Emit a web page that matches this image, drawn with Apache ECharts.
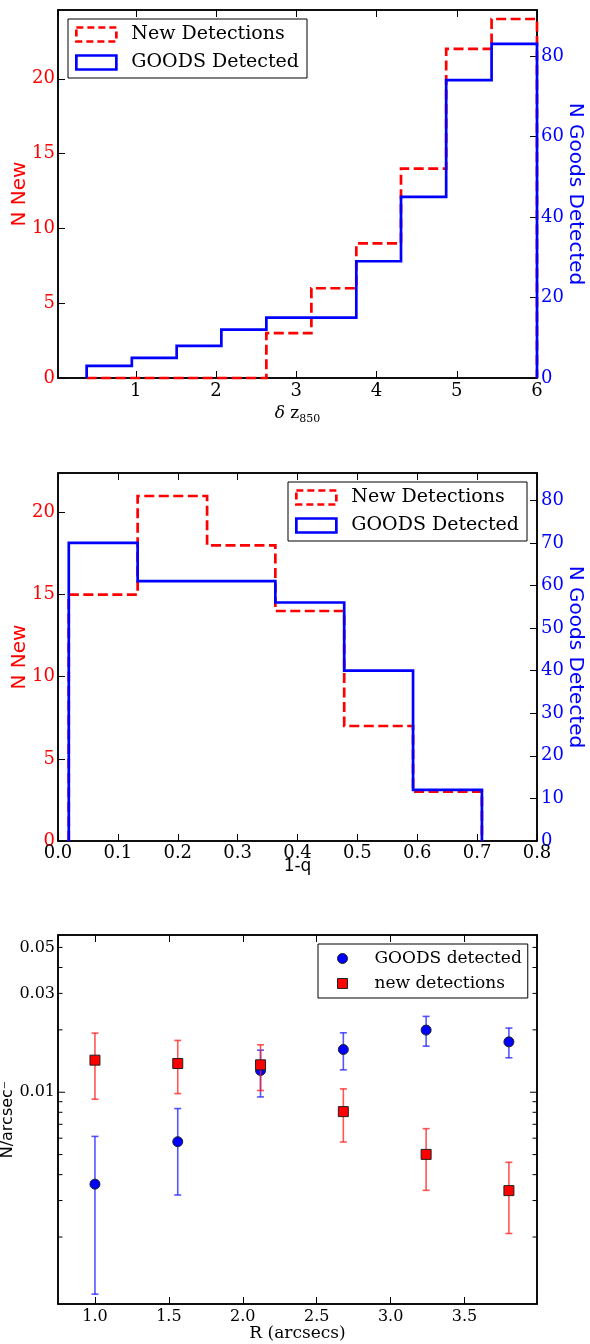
<!DOCTYPE html>
<html>
<head>
<meta charset="utf-8">
<script src="https://cdn.jsdelivr.net/npm/echarts@6/dist/echarts.min.js"></script>
<style>
html,body{margin:0;padding:0;background:#fff;}
#c{width:590px;height:1344px;}
</style>
</head>
<body>
<div id="c"></div>
<script>
// ---------- Panel 1: delta z850 histogram ----------
const dzEdges = [0.387, 0.950, 1.509, 2.066, 2.627, 3.188, 3.748, 4.305, 4.868, 5.434, 6.0];
const dzNew   = [0, 0, 0, 0, 3, 6, 9, 14, 22, 24];
const dzGoods = [3, 5, 8, 12, 15, 15, 29, 45, 74, 83];

// ---------- Panel 2: 1-q histogram ----------
const qEdges = [0.018, 0.133, 0.249, 0.363, 0.478, 0.593, 0.708];
const qNew   = [15, 21, 18, 14, 7, 3];
const qGoods = [70, 61, 61, 56, 40, 12];

// ---------- Panel 3: surface density vs R ----------
const rValues      = [1.0, 1.56, 2.12, 2.68, 3.24, 3.80];
const goodsDensity = [0.00360, 0.00577, 0.01273, 0.01608, 0.01995, 0.01750];
const goodsHigh    = [0.00612, 0.00834, 0.01596, 0.01936, 0.02323, 0.02040];
const goodsLow     = [0.00106, 0.00319, 0.00949, 0.01282, 0.01669, 0.01466];
const newDensity   = [0.01428, 0.01376, 0.01356, 0.00806, 0.00501, 0.00335];
const newHigh      = [0.01929, 0.01778, 0.01694, 0.01038, 0.00667, 0.00459];
const newLow       = [0.00925, 0.00985, 0.01019, 0.00575, 0.00336, 0.00208];

// tick values for the log axis of panel 3
const logLabeledTicks = [0.01, 0.03, 0.05];
const logMinorTicks   = [0.002, 0.003, 0.004, 0.005, 0.006, 0.007, 0.008, 0.009, 0.02, 0.04];

const SERIF = "'DejaVu Serif', 'Liberation Serif', serif";
const SANS  = "'DejaVu Sans', 'Liberation Sans', sans-serif";
const RED = '#ff0000', BLUE = '#0000ff';

function stepOutline(edges, counts) {
  const pts = [[edges[0], 0]];
  counts.forEach((c, i) => { pts.push([edges[i], c]); pts.push([edges[i + 1], c]); });
  pts.push([edges[edges.length - 1], 0]);
  return pts;
}

const axisLine = { show: true, onZero: false, lineStyle: { color: '#000', width: 1.5 } };
const axisTick = { show: true, inside: true, length: 7, lineStyle: { color: '#000', width: 1 } };
const noSplit = { show: false };

function xMirror(grid, min, max, extra) {
  return Object.assign({ gridIndex: grid, type: 'value', position: 'top', min, max,
    axisLine, axisTick, axisLabel: { show: false }, splitLine: noSplit }, extra || {});
}

const chart = echarts.init(document.getElementById('c'), null, { renderer: 'canvas' });

const xMin3 = 0.75, xMax3 = 3.99;
const yMin3 = 0.00095, yMax3 = 0.0574;

const histLegendText = { fontFamily: SERIF, fontSize: 19, color: '#000', padding: [0, 0, 0, 10] };
function histLegend(left, top) {
  return {
    left, top, orient: 'vertical', itemWidth: 40, itemHeight: 14, itemGap: 9,
    padding: [6, 8, 6, 7], borderColor: '#000', borderWidth: 1, backgroundColor: '#fff',
    selectedMode: false, textStyle: histLegendText,
    data: [
      { name: 'New Detections', icon: 'rect',
        itemStyle: { color: 'rgba(0,0,0,0)', borderColor: RED, borderWidth: 2.7, borderType: [7, 4] } },
      { name: 'GOODS Detected', icon: 'rect',
        itemStyle: { color: 'rgba(0,0,0,0)', borderColor: BLUE, borderWidth: 2.7, borderType: 'solid' } }
    ]
  };
}

function errRender(color) {
  return function (params, api) {
    const x = api.value(0), lo = api.value(1), hi = api.value(2);
    const pLo = api.coord([x, lo]);
    const pHi = api.coord([x, hi]);
    const cap = 3.5;
    const st = { stroke: color, lineWidth: 1.6 };
    return {
      type: 'group', children: [
        { type: 'line', shape: { x1: pLo[0], y1: pLo[1], x2: pHi[0], y2: pHi[1] }, style: st },
        { type: 'line', shape: { x1: pLo[0] - cap, y1: pLo[1], x2: pLo[0] + cap, y2: pLo[1] }, style: st },
        { type: 'line', shape: { x1: pHi[0] - cap, y1: pHi[1], x2: pHi[0] + cap, y2: pHi[1] }, style: st }
      ]
    };
  };
}

const gridBase = { left: 58, right: 53, show: true, borderColor: '#000', borderWidth: 1.5,
  backgroundColor: 'transparent', containLabel: false, outerBoundsMode: 'none' };

const option = {
  animation: false,
  backgroundColor: '#fff',
  grid: [
    Object.assign({ top: 10, height: 368 }, gridBase),
    Object.assign({ top: 473, height: 368 }, gridBase),
    Object.assign({ top: 935, height: 369 }, gridBase)
  ],
  xAxis: [
    { gridIndex: 0, type: 'value', position: 'bottom', min: 0.03, max: 6,
      axisLine, axisTick, splitLine: noSplit,
      axisLabel: { color: '#000', fontFamily: SERIF, fontSize: 18, margin: 4, showMinLabel: false },
      name: '{d|\u03b4} z{s|850}', nameLocation: 'middle', nameGap: 25, nameMoveOverlap: false,
      nameTextStyle: { color: '#000', fontFamily: SERIF, fontSize: 17, lineHeight: 22,
        rich: { d: { fontFamily: SERIF, fontStyle: 'italic', fontSize: 17, lineHeight: 22 },
                s: { fontFamily: SERIF, fontSize: 11, lineHeight: 11, verticalAlign: 'bottom' } } } },
    xMirror(0, 0.03, 6),
    { gridIndex: 1, type: 'value', position: 'bottom', min: 0, max: 0.8, interval: 0.1,
      axisLine, axisTick, splitLine: noSplit,
      axisLabel: { color: '#000', fontFamily: SERIF, fontSize: 18, margin: 3, formatter: v => v.toFixed(1) },
      name: '1-q', nameLocation: 'middle', nameGap: 17, nameMoveOverlap: false,
      nameTextStyle: { color: '#000', fontFamily: SANS, fontSize: 17 } },
    xMirror(1, 0, 0.8, { interval: 0.1 }),
    { gridIndex: 2, type: 'value', position: 'bottom', min: xMin3, max: xMax3, splitNumber: 5,
      axisLine, axisTick, splitLine: noSplit,
      axisLabel: { color: '#000', fontFamily: SERIF, fontSize: 16, margin: 5,
        showMinLabel: false, showMaxLabel: false, formatter: v => v.toFixed(1) },
      name: 'R (arcsecs)', nameLocation: 'middle', nameGap: 21, nameMoveOverlap: false,
      nameTextStyle: { color: '#000', fontFamily: SERIF, fontSize: 17 } },
    xMirror(2, xMin3, xMax3, { splitNumber: 5 })
  ],
  yAxis: [
    { gridIndex: 0, type: 'value', position: 'left', min: 0, max: 24.6, interval: 5,
      axisLine, axisTick, splitLine: noSplit,
      axisLabel: { color: RED, fontFamily: SERIF, fontSize: 18, margin: 3, showMaxLabel: false },
      name: 'N New', nameLocation: 'middle', nameGap: 28, nameMoveOverlap: false,
      nameTextStyle: { color: RED, fontFamily: SANS, fontSize: 20 } },
    { gridIndex: 0, type: 'value', position: 'right', min: 0, max: 91.4, interval: 20,
      axisLine, axisTick, splitLine: noSplit,
      axisLabel: { color: BLUE, fontFamily: SERIF, fontSize: 18, margin: 4, showMaxLabel: false },
      name: 'N Goods Detected', nameLocation: 'middle', nameGap: 28, nameRotate: -90, nameMoveOverlap: false,
      nameTextStyle: { color: BLUE, fontFamily: SANS, fontSize: 20 } },
    { gridIndex: 1, type: 'value', position: 'left', min: 0, max: 22.4, interval: 5,
      axisLine, axisTick, splitLine: noSplit,
      axisLabel: { color: RED, fontFamily: SERIF, fontSize: 18, margin: 3, showMaxLabel: false },
      name: 'N New', nameLocation: 'middle', nameGap: 28, nameMoveOverlap: false,
      nameTextStyle: { color: RED, fontFamily: SANS, fontSize: 20 } },
    { gridIndex: 1, type: 'value', position: 'right', min: 0, max: 86.4, interval: 10,
      axisLine, axisTick, splitLine: noSplit,
      axisLabel: { color: BLUE, fontFamily: SERIF, fontSize: 18, margin: 4, showMaxLabel: false },
      name: 'N Goods Detected', nameLocation: 'middle', nameGap: 28, nameRotate: -90, nameMoveOverlap: false,
      nameTextStyle: { color: BLUE, fontFamily: SANS, fontSize: 20 } },
    { gridIndex: 2, type: 'log', logBase: 10, position: 'left', min: yMin3, max: yMax3,
      axisLine, axisTick: { show: false }, minorTick: { show: false }, splitLine: noSplit,
      axisLabel: { show: false },
      name: 'N/arcsec\u207b', nameLocation: 'middle', nameGap: 42, nameMoveOverlap: false,
      nameTextStyle: { color: '#000', fontFamily: SANS, fontSize: 16 } },
    { gridIndex: 2, type: 'log', logBase: 10, position: 'right', min: yMin3, max: yMax3,
      axisLine, axisTick: { show: false }, minorTick: { show: false }, splitLine: noSplit,
      axisLabel: { show: false } }
  ],
  legend: [
    histLegend(68, 19),
    histLegend(288, 482),
    { left: 318, top: 944, orient: 'vertical', itemWidth: 28, itemHeight: 10, itemGap: 8,
      padding: [6, 6, 6, 19], borderColor: '#000', borderWidth: 1, backgroundColor: '#fff',
      selectedMode: false,
      textStyle: { fontFamily: SERIF, fontSize: 17, color: '#000', padding: [0, 0, 0, 13] },
      data: [
        { name: 'GOODS detected', icon: 'circle', itemStyle: { color: BLUE, borderColor: '#222', borderWidth: 1 } },
        { name: 'new detections', icon: 'path://M0,0L10,0L10,10L0,10Z', itemStyle: { color: RED, borderColor: '#222', borderWidth: 1 } }
      ] }
  ],
  series: [
    { type: 'line', name: 'New Detections', xAxisIndex: 0, yAxisIndex: 0, data: stepOutline(dzEdges, dzNew),
      symbol: 'none', clip: false, z: 3, itemStyle: { color: RED },
      lineStyle: { color: RED, width: 2.7, type: [10, 4.5], join: 'miter' } },
    { type: 'line', name: 'GOODS Detected', xAxisIndex: 0, yAxisIndex: 1, data: stepOutline(dzEdges, dzGoods),
      symbol: 'none', clip: false, z: 4, itemStyle: { color: BLUE },
      lineStyle: { color: BLUE, width: 2.7, join: 'miter' } },
    { type: 'line', name: 'New Detections', xAxisIndex: 2, yAxisIndex: 2, data: stepOutline(qEdges, qNew),
      symbol: 'none', clip: false, z: 3, itemStyle: { color: RED },
      lineStyle: { color: RED, width: 2.7, type: [10, 4.5], join: 'miter' } },
    { type: 'line', name: 'GOODS Detected', xAxisIndex: 2, yAxisIndex: 3, data: stepOutline(qEdges, qGoods),
      symbol: 'none', clip: false, z: 4, itemStyle: { color: BLUE },
      lineStyle: { color: BLUE, width: 2.7, join: 'miter' } },
    { type: 'custom', name: 'goodsErr', xAxisIndex: 4, yAxisIndex: 4, z: 3,
      renderItem: errRender('rgba(30,30,255,0.75)'), encode: { x: 0, y: [1, 2] },
      data: rValues.map((r, i) => [r, goodsLow[i], goodsHigh[i]]) },
    { type: 'scatter', name: 'GOODS detected', xAxisIndex: 4, yAxisIndex: 4, z: 4,
      symbol: 'circle', symbolSize: 10,
      itemStyle: { color: BLUE, borderColor: '#222', borderWidth: 1, opacity: 1 },
      data: rValues.map((r, i) => [r, goodsDensity[i]]) },
    { type: 'custom', name: 'newErr', xAxisIndex: 4, yAxisIndex: 4, z: 5,
      renderItem: errRender('rgba(255,30,30,0.75)'), encode: { x: 0, y: [1, 2] },
      data: rValues.map((r, i) => [r, newLow[i], newHigh[i]]) },
    { type: 'scatter', name: 'new detections', xAxisIndex: 4, yAxisIndex: 4, z: 6,
      symbol: 'rect', symbolSize: 10,
      itemStyle: { color: RED, borderColor: '#222', borderWidth: 1, opacity: 1 },
      data: rValues.map((r, i) => [r, newDensity[i]]) }
  ]
};

chart.setOption(option);

// Log-axis ticks and labels for panel 3, positioned through the axis scale
(function drawLogTicks() {
  const xL = chart.convertToPixel({ xAxisIndex: 4 }, xMin3);
  const xR = chart.convertToPixel({ xAxisIndex: 4 }, xMax3);
  const els = [];
  const addTick = (v, len) => {
    const y = chart.convertToPixel({ yAxisIndex: 4 }, v);
    els.push({ type: 'line', z: 10, silent: true, shape: { x1: xL, y1: y, x2: xL + len, y2: y }, style: { stroke: '#000', lineWidth: 1 } });
    els.push({ type: 'line', z: 10, silent: true, shape: { x1: xR - len, y1: y, x2: xR, y2: y }, style: { stroke: '#000', lineWidth: 1 } });
    return y;
  };
  logMinorTicks.forEach(v => addTick(v, 4.5));
  logLabeledTicks.forEach(v => {
    const y = addTick(v, v === 0.01 ? 7 : 4.5);
    els.push({ type: 'text', z: 10, silent: true,
      style: { text: String(v), x: xL - 3, y: y, fill: '#000', fontSize: 16, fontFamily: SERIF,
               align: 'right', verticalAlign: 'middle' } });
  });
  chart.setOption({ graphic: els });
})();
</script>
</body>
</html>
